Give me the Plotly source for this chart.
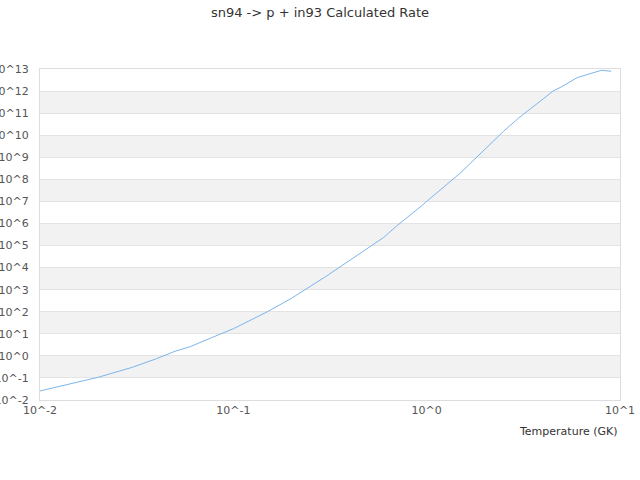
import plotly.graph_objects as go

title_text = "sn94 -> p + in93 Calculated Rate"
x_title = "Temperature (GK)"

temperature = [0.01, 0.015, 0.02, 0.03, 0.04, 0.05, 0.06, 0.07, 0.08, 0.09,
               0.1, 0.15, 0.2, 0.3, 0.4, 0.5, 0.6, 0.7, 0.8, 0.9,
               1.0, 1.5, 2.0, 2.5, 3.0, 3.5, 4.0, 4.5, 5.0, 6.0, 7.0, 8.0, 9.0]
log_rate = [-1.59, -1.24, -0.97, -0.52, -0.13, 0.21, 0.42, 0.67, 0.87, 1.05,
            1.23, 2.0, 2.61, 3.59, 4.34, 4.92, 5.37, 5.89, 6.28, 6.66,
            7.0, 8.30, 9.36, 10.18, 10.79, 11.23, 11.64, 12.0, 12.20, 12.61, 12.80, 12.94, 12.90]
rate = [10 ** v for v in log_rate]

y_exps = list(range(-2, 14))
x_exps = [-2, -1, 0, 1]
y_ticktext = [f"10^{k}" for k in y_exps]
x_ticktext = [f"10^{k}" for k in x_exps]
band_starts = [-1, 1, 3, 5, 7, 9, 11]

font = "DejaVu Sans, Verdana, sans-serif"

fig = go.Figure()
fig.add_trace(go.Scatter(x=temperature, y=rate, mode="lines",
                         line=dict(color="#7cb5ec", width=1),
                         hoverinfo="x+y", showlegend=False))

shapes = [dict(type="rect", xref="paper", yref="y", x0=0, x1=1,
               y0=10 ** b, y1=10 ** (b + 1),
               fillcolor="#f2f2f2", line=dict(width=0), layer="below")
          for b in band_starts]

fig.update_layout(
    width=640, height=480,
    template="none",
    paper_bgcolor="white", plot_bgcolor="white",
    margin=dict(l=40, r=20, t=69, b=80),
    title=dict(text=title_text, x=0.5, xanchor="center", y=1 - 12 / 480, yanchor="middle",
               font=dict(family=font, size=13, color="#333333")),
    font=dict(family=font, size=11, color="#555555"),
    shapes=shapes,
    xaxis=dict(type="log", range=[-2, 1], tickvals=[10 ** k for k in x_exps],
               ticktext=x_ticktext, showgrid=False, zeroline=False,
               showline=True, mirror=True, linecolor="#dddddd", linewidth=1,
               ticks="", automargin=False, ticklabelstandoff=0,
               tickfont=dict(family=font, size=11, color="#555555")),
    yaxis=dict(type="log", range=[-2, 13], tickvals=[10 ** k for k in y_exps],
               ticktext=y_ticktext, showgrid=True, gridcolor="#e3e3e3", gridwidth=1,
               zeroline=False, showline=True, mirror=True, linecolor="#dddddd",
               linewidth=1, ticks="", automargin=False, ticklabelstandoff=8,
               tickfont=dict(family=font, size=11, color="#555555")),
    annotations=[dict(text=x_title, xref="paper", yref="paper", x=1, y=-0.094,
                      xanchor="right", yanchor="middle", showarrow=False,
                      font=dict(family=font, size=11, color="#333333"))],
)

fig.write_html("out.html", config={"displayModeBar": False},
               post_script="document.body.style.margin='0';")
